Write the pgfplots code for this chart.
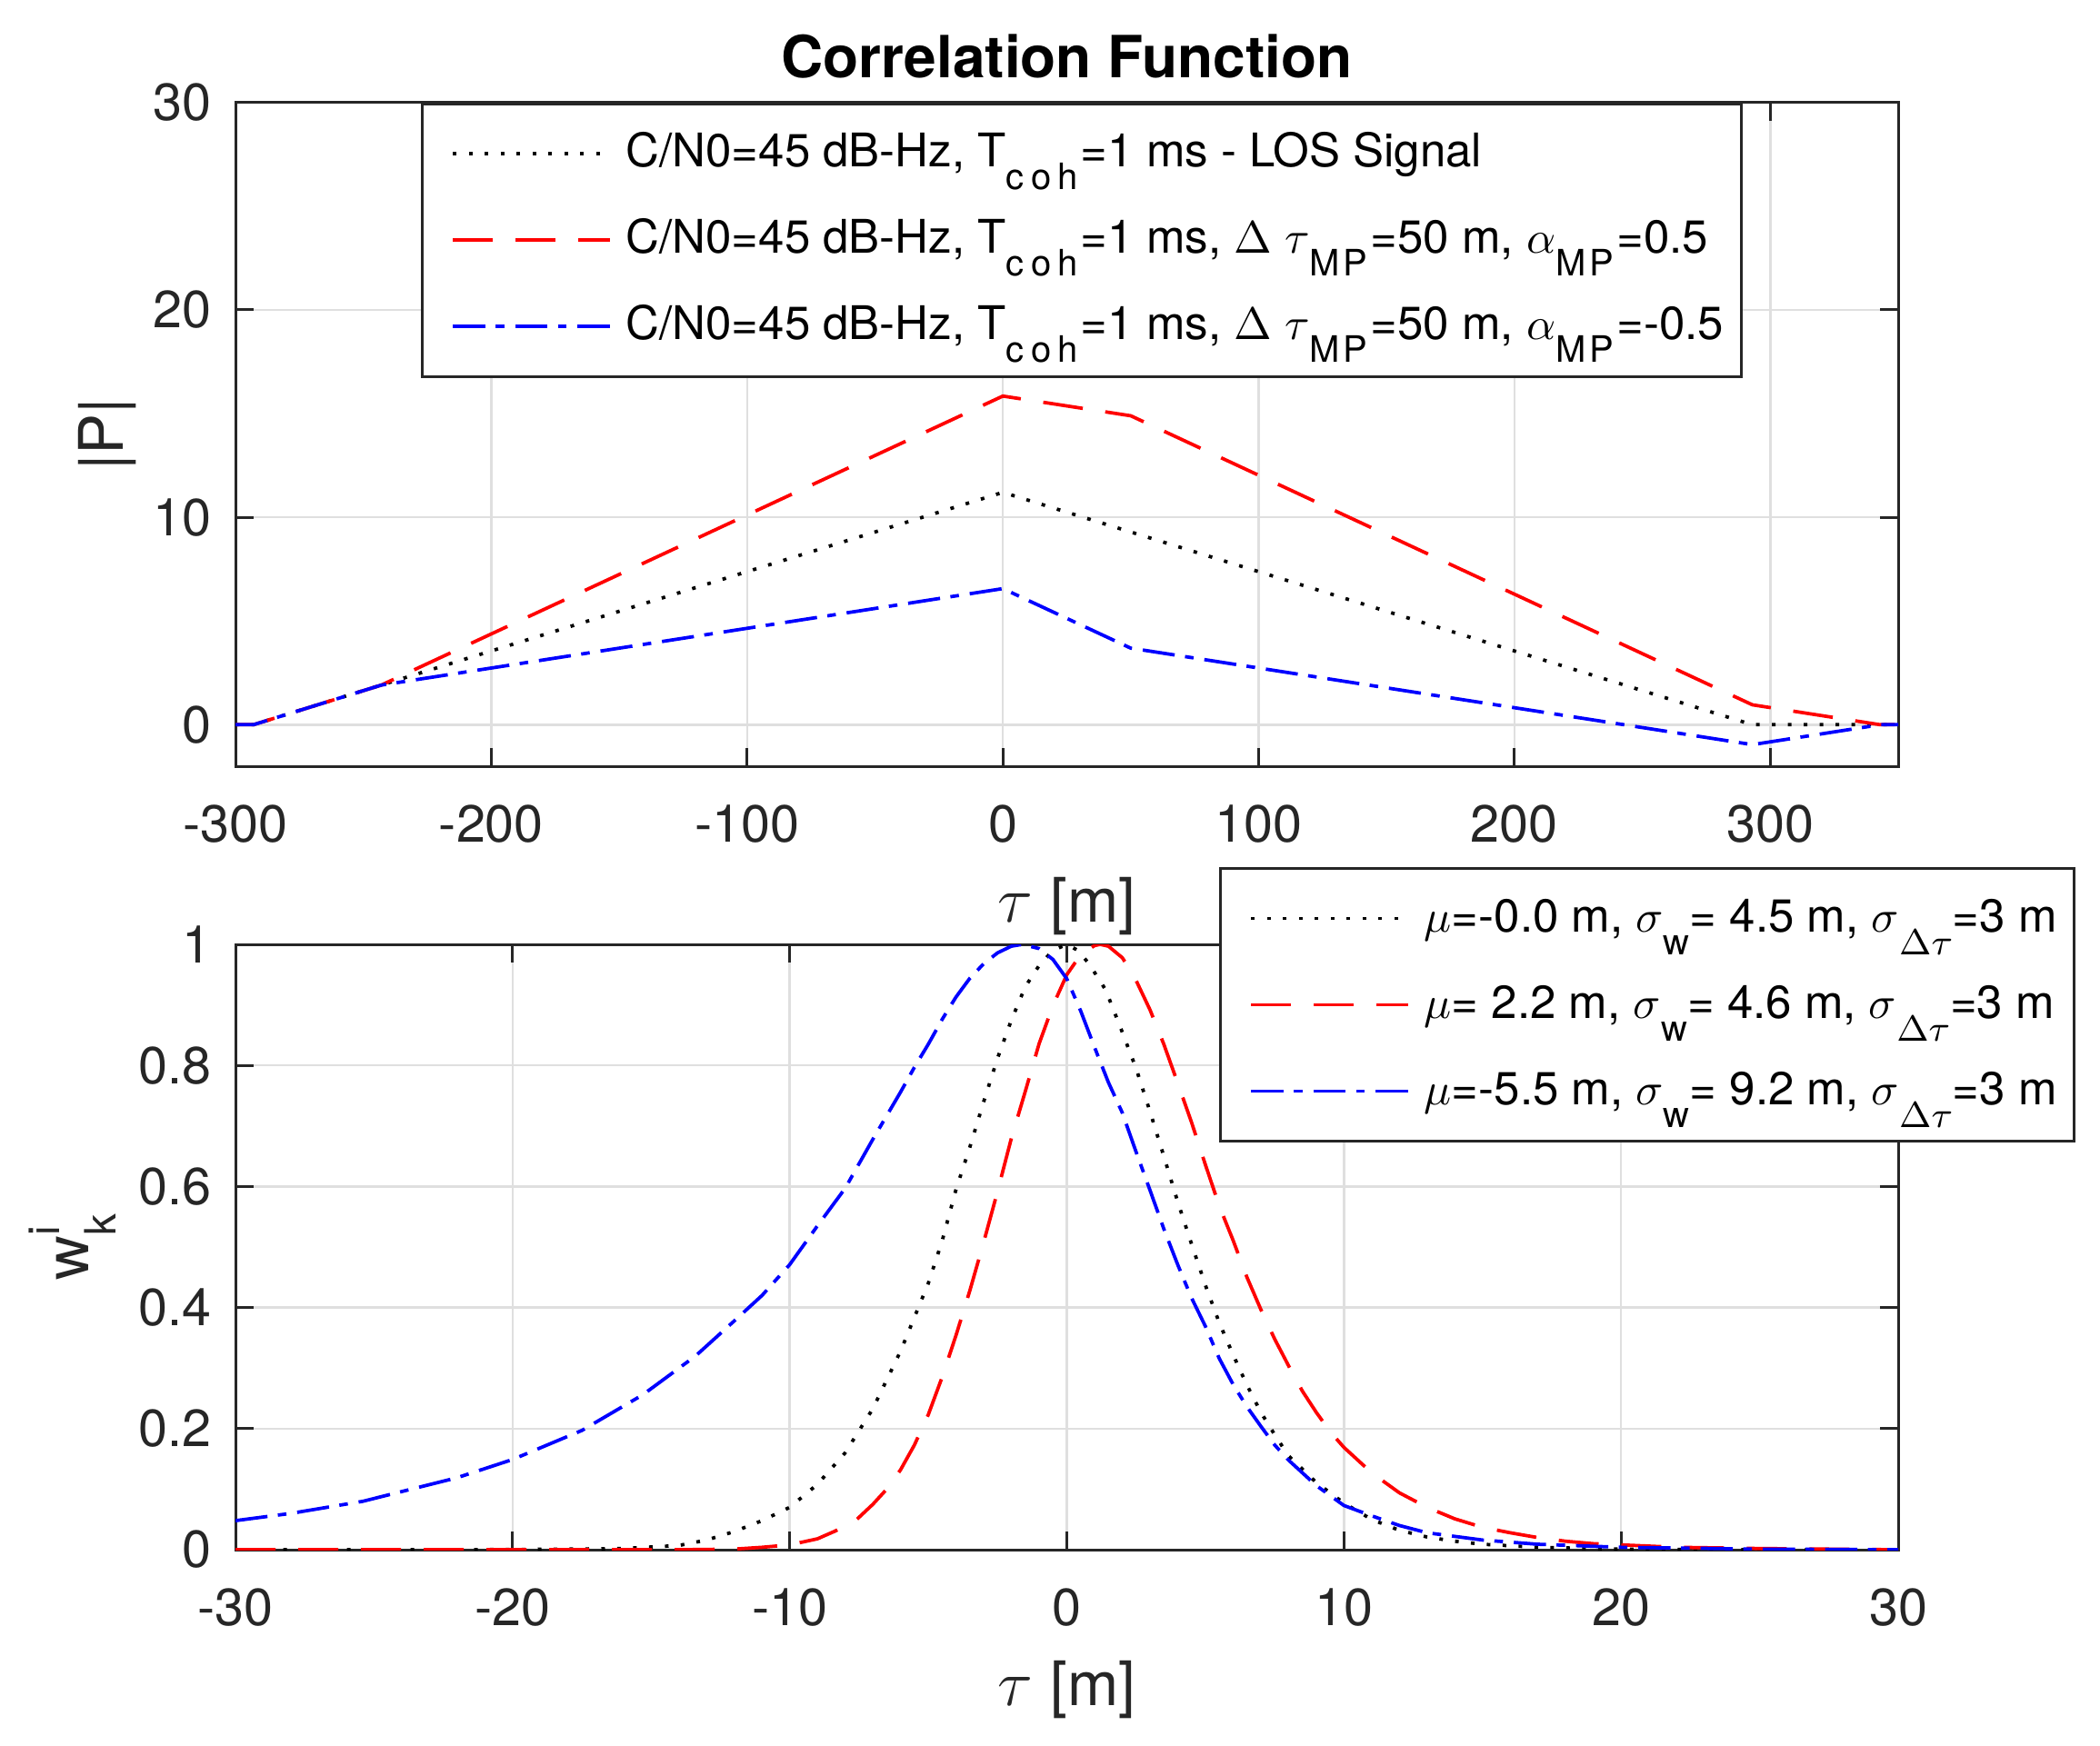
\documentclass[border=0pt]{standalone}
\usepackage{fontspec}
\setmainfont{TeX Gyre Heros}
\usepackage{pgfplots}
\pgfplotsset{compat=1.18}
\definecolor{axgray}{RGB}{38,38,38}
\definecolor{gridgray}{RGB}{223,223,223}
\newcommand{\sub}[1]{\raisebox{-5pt}{\fontsize{8}{8}\selectfont #1}}
\newcommand{\coh}{\sub{c\kern1.5pt o\kern1.5pt h\kern0.5pt}}
\newcommand{\MP}{\sub{M\kern0.7pt P\kern0.7pt}}
\pgfplotsset{
  myaxis/.style={
    scale only axis, width=365.8pt,
    axis line style={draw=axgray, line width=0.6pt},
    every tick/.style={axgray, line width=0.6pt},
    major tick length=4pt, tick align=inside, tick pos=both,
    xmajorgrids, ymajorgrids,
    major grid style={gridgray, line width=0.5pt},
    xticklabel style={font=\fontsize{11.5}{13}\selectfont, text=axgray, anchor=base, yshift=-16.7pt},
    yticklabel style={font=\fontsize{11.5}{13}\selectfont, text=axgray, anchor=east, inner xsep=0pt, xshift=-5.2pt},
    every axis label/.append style={font=\fontsize{13.5}{15}\selectfont, text=axgray},
    legend cell align=left,
    legend image code/.code={\path (0pt,0pt); \draw[##1] (4.6pt,0pt) -- (39.1pt,0pt);},
    legend style={draw=axgray, line width=0.6pt, fill=white, text=black,
      font=\fontsize{10.2}{12}\selectfont,
      inner xsep=1.8pt, inner ysep=2.5pt, row sep=2pt, column sep=1.2pt,
      nodes={inner xsep=2pt, inner ysep=2pt, text height=9.4pt, text depth=3.6pt}},
  },
  blk/.style={black, line width=0.75pt, dash pattern=on 0.8pt off 2.7pt},
  rd/.style={red, line width=0.75pt, dash pattern=on 8.8pt off 5pt},
  bl/.style={blue, line width=0.75pt, dash pattern=on 7.1pt off 2.3pt on 1.9pt off 2.4pt},
}
\begin{document}
\begin{tikzpicture}
\path[use as bounding box] (0,0) rectangle (462pt,384pt);
% ---------------- top axis
\begin{axis}[myaxis,
  at={(51.8pt,215.4pt)}, anchor=south west, height=146.1pt,
  xmin=-300, xmax=350, ymin=-2, ymax=30,
  xtick={-300,-200,-100,0,100,200,300},
  xticklabels={-300,-200,-100,0,100,200,300},
  ytick={0,10,20,30}, yticklabels={0,10,20,30},
  title={Correlation Function},
  title style={at={(axis description cs:0.5,1)}, anchor=base, yshift=-0.5pt, font=\bfseries\fontsize{12.8}{14}\selectfont, text=black},
  xlabel={$\tau$ [m]},
  xlabel style={at={(axis description cs:0.5,-0.2341)}, anchor=base},
  ylabel={|P|},
  ylabel style={at={(axis description cs:-0.077,0.5)}, anchor=center, rotate=0},
  legend style={at={(0.1115,1)}, anchor=north west},
]
\addplot[blk] coordinates {(-300,0) (-293,0) (0,11.2) (293,0) (350,0)};
\addlegendentry{C/N0=45 dB-Hz, T\coh=1 ms - LOS Signal}
\addplot[rd] coordinates {(-300,0) (-293,0) (-243,1.91) (0,15.84) (50,14.89) (293,0.96) (343,0) (350,0)};
\addlegendentry{C/N0=45 dB-Hz, T\coh=1 ms, $\Delta$ $\tau$\MP=50 m, $\alpha$\MP=0.5}
\addplot[bl] coordinates {(-300,0) (-293,0) (-243,1.91) (0,6.56) (50,3.69) (293,-0.96) (343,0) (350,0)};
\addlegendentry{C/N0=45 dB-Hz, T\coh=1 ms, $\Delta$ $\tau$\MP=50 m, $\alpha$\MP=-0.5}
\end{axis}
% ---------------- bottom axis
\begin{axis}[myaxis,
  at={(51.8pt,43pt)}, anchor=south west, height=133.2pt,
  xmin=-30, xmax=30, ymin=0, ymax=1,
  xtick={-30,-20,-10,0,10,20,30},
  xticklabels={-30,-20,-10,0,10,20,30},
  ytick={0,0.2,0.4,0.6,0.8,1}, yticklabels={0,0.2,0.4,0.6,0.8,1},
  xlabel={$\tau$ [m]},
  xlabel style={at={(axis description cs:0.5,-0.2568)}, anchor=base},
  ylabel={w\rlap{\raisebox{6.3pt}{\fontsize{9.5}{10}\selectfont i}}\raisebox{-6pt}{\fontsize{9.5}{10}\selectfont k}},
  ylabel style={at={(axis description cs:-0.0981,0.5)}, anchor=center, rotate=0},
  legend style={at={(0.5916,1.1276)}, anchor=north west},
]
\addplot[blk] coordinates {(-30,0) (-22,0) (-18,0.001) (-16,0.002) (-14,0.007) (-13,0.016) (-12,0.030) (-11,0.048) (-10,0.070) (-9,0.108) (-8,0.160) (-7,0.233) (-6,0.328) (-5,0.44) (-4.5,0.51) (-4,0.595) (-3.5,0.665) (-3,0.74) (-2.5,0.812) (-2,0.875) (-1.5,0.93) (-1,0.965) (-0.5,0.99) (0,1.0) (0.4,0.99) (0.8,0.968) (1.4,0.925) (2,0.855) (2.5,0.795) (3,0.724) (3.5,0.65) (4,0.575) (4.5,0.505) (5,0.437) (5.5,0.375) (6,0.322) (6.5,0.272) (7,0.227) (7.5,0.19) (8,0.155) (9,0.111) (10,0.077) (11,0.05) (12,0.032) (13,0.021) (14,0.014) (15,0.009) (17,0.004) (20,0.001) (25,0) (30,0)};
\addlegendentry{$\mu$=-0.0 m, $\sigma$\sub{w}= 4.5 m, $\sigma$\sub{$\Delta\tau$}=3 m}
\addplot[rd] coordinates {(-30,0) (-14,0) (-12,0.001) (-11,0.004) (-10,0.008) (-9,0.018) (-8.4,0.03) (-7.65,0.047) (-7,0.075) (-6.5,0.10) (-6,0.132) (-5.5,0.173) (-5,0.223) (-4.5,0.285) (-4,0.354) (-3.5,0.428) (-3,0.508) (-2.5,0.592) (-2,0.680) (-1.5,0.757) (-1,0.836) (-0.5,0.899) (0,0.95) (0.5,0.983) (1,0.998) (1.2,1.0) (1.5,0.997) (2,0.978) (2.4,0.95) (3,0.892) (3.5,0.835) (4,0.771) (4.5,0.706) (5,0.636) (5.5,0.568) (6,0.511) (6.5,0.45) (7,0.397) (7.5,0.348) (8,0.304) (8.5,0.262) (9,0.227) (9.5,0.195) (10,0.169) (11,0.127) (12,0.094) (13,0.07) (14,0.051) (15,0.037) (16,0.028) (17,0.02) (18,0.014) (19,0.01) (20,0.008) (22,0.004) (25,0.002) (30,0)};
\addlegendentry{$\mu$= 2.2 m, $\sigma$\sub{w}= 4.6 m, $\sigma$\sub{$\Delta\tau$}=3 m}
\addplot[bl] coordinates {(-30,0.048) (-28,0.06) (-25.4,0.08) (-22,0.119) (-20,0.149) (-17.5,0.197) (-15.3,0.256) (-13.4,0.32) (-12,0.378) (-11,0.42) (-10,0.471) (-9,0.535) (-8,0.597) (-7,0.678) (-6,0.756) (-5.5,0.797) (-5,0.835) (-4.5,0.876) (-4,0.913) (-3.5,0.944) (-3,0.968) (-2.5,0.986) (-2,0.997) (-1.6,1.0) (-1,0.993) (-0.5,0.975) (0,0.943) (0.5,0.89) (1,0.83) (1.5,0.772) (2,0.722) (2.5,0.657) (3,0.594) (3.5,0.53) (4,0.471) (4.5,0.416) (5,0.369) (5.5,0.316) (6,0.273) (6.5,0.236) (7,0.204) (7.5,0.173) (8,0.148) (9,0.106) (10,0.073) (11,0.056) (12,0.04) (13,0.028) (15,0.016) (17,0.009) (20,0.004) (25,0.001) (30,0)};
\addlegendentry{$\mu$=-5.5 m, $\sigma$\sub{w}= 9.2 m, $\sigma$\sub{$\Delta\tau$}=3 m}
\end{axis}
\end{tikzpicture}
\end{document}
